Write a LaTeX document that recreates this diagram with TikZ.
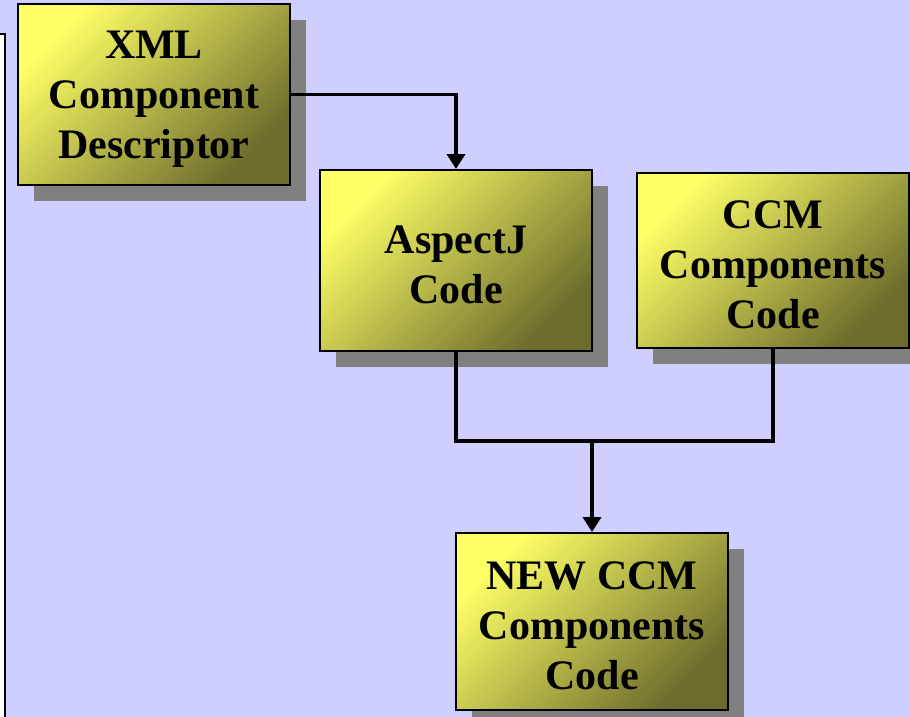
\documentclass[tikz,border=0pt]{standalone}
\usepackage{fontspec}
\setmainfont{Liberation Serif}
\usetikzlibrary{arrows.meta,shadows}

\definecolor{bglav}{RGB}{206,206,255}
\definecolor{boxlight}{RGB}{255,255,102}
\definecolor{boxdark}{RGB}{108,108,44}
\definecolor{shadowgrey}{RGB}{128,128,128}

% taller first line, so each text block sits slightly low in its box
\newcommand{\toprow}{\rule{0pt}{37pt}}

\tikzset{
  stagebox/.style={
    draw=black, line width=2pt,
    top color=boxlight, bottom color=boxdark,
    shading angle=45,
    minimum width=272pt, inner sep=0pt, align=center,
    font=\fontsize{42}{50}\selectfont\bfseries,
    general shadow={fill=shadowgrey, shadow xshift=16pt, shadow yshift=-16pt}
  },
  link/.style={draw=black, line width=3.8pt},
  flow/.style={link, -{Triangle[width=18pt,length=15pt]}}
}

\begin{document}
\begin{tikzpicture}[x=1pt,y=-1pt]
  \useasboundingbox (0,0) rectangle (910,717);
  \fill[bglav] (0,0) rectangle (910,717);

  % side panel frame at the left edge
  \filldraw[fill=white, draw=black, line width=2pt] (-20,34) rectangle (5,740);

  % stages
  \node[stagebox, minimum height=181pt] (xml) at (154,94.5) {\toprow XML\\Component\\Descriptor};
  \node[stagebox, minimum height=181pt] (asp) at (456,260.5) {\toprow AspectJ\\Code};
  \node[stagebox, minimum height=175pt] (ccm) at (773,260.5) {\toprow CCM\\Components\\Code};
  \node[stagebox, minimum height=177pt] (new) at (592,621.5) {\toprow NEW CCM\\Components\\Code};

  \coordinate (join) at (592,441);

  % connectors
  \draw[flow] (xml.east) -| (asp.north);
  \draw[link] (asp.south) |- (join);
  \draw[link] (ccm.south) |- (join);
  \draw[flow] (join) -- (new.north);
\end{tikzpicture}
\end{document}
